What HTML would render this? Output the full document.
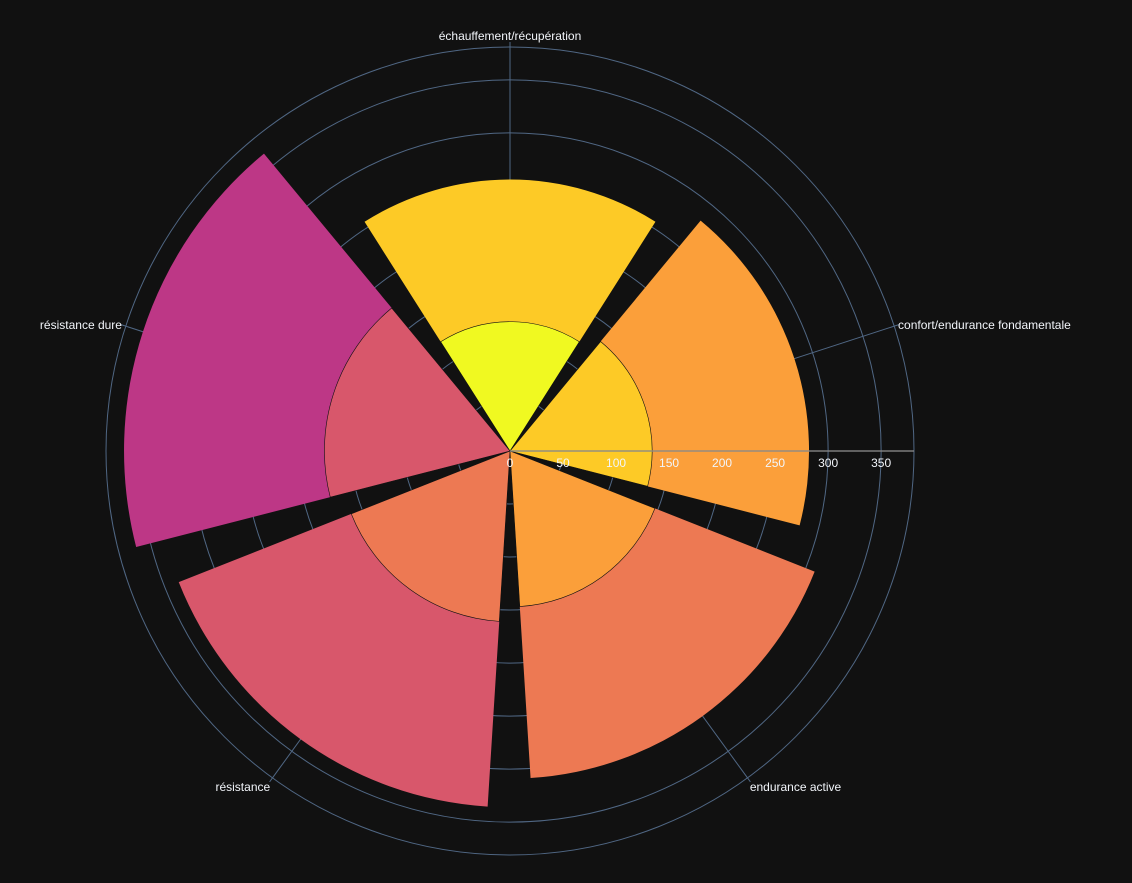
<!DOCTYPE html>
<html><head><meta charset="utf-8"><style>
html,body{margin:0;padding:0;background:#111111;}
svg{display:block;font-family:"Liberation Sans","DejaVu Sans",sans-serif;}
</style></head><body>
<svg id="chart" width="1132" height="883" viewBox="0 0 1132 883"></svg>
<script>
const categories = ["échauffement/récupération","confort/endurance fondamentale","endurance active","résistance","résistance dure"];
const innerValues = [122, 134, 147, 161, 175];
const totalValues = [256, 282, 309, 336, 364];
const radialTicks = [0,50,100,150,200,250,300,350];
const innerColors = ["#f0f921","#fdca26","#fb9f3a","#ed7953","#d8576b"];
const outerColors = ["#fdca26","#fb9f3a","#ed7953","#d8576b","#bd3786"];

const cx=510, cy=451, rMax=381, R=404;
const NS="http://www.w3.org/2000/svg";
const svg=document.getElementById('chart');
function rScale(v){return v/rMax*R;}
function angleOf(i){return 90 - i*360/categories.length;}
function pt(r,deg){const a=deg*Math.PI/180;return [cx+r*Math.cos(a), cy-r*Math.sin(a)];}
function mk(tag,attrs,parent){const e=document.createElementNS(NS,tag);for(const k in attrs)e.setAttribute(k,attrs[k]);(parent||svg).appendChild(e);return e;}
function wedge(r0,r1,a0,a1){
  const p1=pt(r0,a0),p2=pt(r1,a0),p3=pt(r1,a1),p4=pt(r0,a1);
  let d=`M${p1[0]},${p1[1]} L${p2[0]},${p2[1]} A${r1},${r1} 0 0 1 ${p3[0]},${p3[1]} L${p4[0]},${p4[1]}`;
  if(r0>0) d+=` A${r0},${r0} 0 0 0 ${p1[0]},${p1[1]}`;
  return d+'Z';
}
radialTicks.forEach(t=>{ if(t>0){
  const c=mk('circle',{cx,cy,r:rScale(t),fill:'none',stroke:'#506784','stroke-width':1});
  
  
}});
const oc=mk('circle',{cx,cy,r:R,fill:'none',stroke:'#506784','stroke-width':1});


categories.forEach((c,i)=>{
  const a=angleOf(i);
  const [x1,y1]=pt(0,a),[x2,y2]=pt(R,a),[x3,y3]=pt(R+5,a);
  const g=mk('line',{x1,y1,x2,y2,stroke:'#506784','stroke-width':1});
  
  
  const tk=mk('line',{x1:x2,y1:y2,x2:x3,y2:y3,stroke:'#506784','stroke-width':1});
  
  
  const [lx,ly]=pt(R+4,a);
  const cosA=Math.cos(a*Math.PI/180), sinA=Math.sin(a*Math.PI/180);
  const anchor=Math.abs(cosA)<0.1?'middle':(cosA>0?'start':'end');
  const dy=sinA>0.5?-3:(sinA<-0.5?10:4);
  const t=mk('text',{x:lx,y:ly+dy,fill:'#f2f5fa','font-size':12,'text-anchor':anchor});
  t.textContent=c;
  
  
});
const half=360/categories.length*0.9/2;
categories.forEach((c,i)=>{
  const a=angleOf(i);
  const o=mk('path',{d:wedge(rScale(innerValues[i]),rScale(totalValues[i]),a+half,a-half),fill:outerColors[i]});
  
  
  const n=mk('path',{d:wedge(0,rScale(innerValues[i]),a+half,a-half),fill:innerColors[i],stroke:'#111','stroke-width':0.6});
  
  
});
const ax=mk('line',{x1:cx,y1:cy,x2:cx+R,y2:cy,stroke:'#888','stroke-width':1.5,'stroke-opacity':0.9});


radialTicks.forEach(t=>{
  const tx=mk('text',{x:cx+rScale(t),y:cy+16,fill:'#f2f5fa','font-size':12,'text-anchor':'middle'});
  tx.textContent=t;
  
  
});
</script>
</body></html>
